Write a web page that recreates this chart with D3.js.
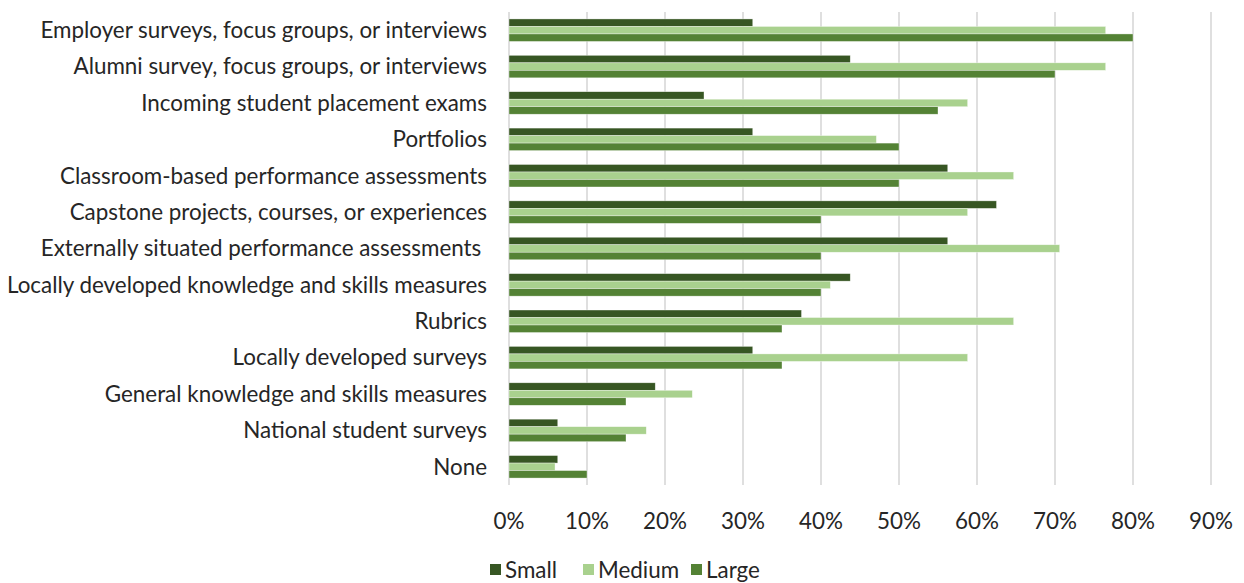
<!DOCTYPE html>
<html>
<head>
<meta charset="utf-8">
<script src="https://cdn.jsdelivr.net/npm/d3@7"></script>
<style>
  body { margin: 0; background: #fff; }
  text { font-family: Lato, "Open Sans", sans-serif; fill: #262626; }
</style>
</head>
<body>
<div id="chart"></div>
<script>
var w = 1244, h = 583;
var marginLeft = 509, marginRight = 33, marginTop = 12, plotBottom = 485;
var fontSize = "22.4px";

// assessment methods, top to bottom
var categories = [
  "Employer surveys, focus groups, or interviews",
  "Alumni survey, focus groups, or interviews",
  "Incoming student placement exams",
  "Portfolios",
  "Classroom-based performance assessments",
  "Capstone projects, courses, or experiences",
  "Externally situated performance assessments ",
  "Locally developed knowledge and skills measures",
  "Rubrics",
  "Locally developed surveys",
  "General knowledge and skills measures",
  "National student surveys",
  "None"
];
var seriesNames = ["Small", "Medium", "Large"];
var small  = [0.3125, 0.4375, 0.25, 0.3125, 0.5625, 0.625, 0.5625, 0.4375, 0.375, 0.3125, 0.1875, 0.0625, 0.0625];
var medium = [0.765, 0.765, 0.588, 0.471, 0.647, 0.588, 0.706, 0.412, 0.647, 0.588, 0.235, 0.176, 0.059];
var large  = [0.80, 0.70, 0.55, 0.50, 0.50, 0.40, 0.40, 0.40, 0.35, 0.35, 0.15, 0.15, 0.10];
var ticks = [0, 0.1, 0.2, 0.3, 0.4, 0.5, 0.6, 0.7, 0.8, 0.9];
var colors = ["#375623", "#a9d18e", "#548235"];

var series = [small, medium, large];

var svg = d3.select("#chart").append("svg")
  .attr("width", w)
  .attr("height", h);

var x = d3.scaleLinear().domain([0, 0.9]).range([marginLeft, w - marginRight]);
var y = d3.scaleBand().domain(categories).range([marginTop, plotBottom]);
var groupH = 22.5;
var yInner = d3.scaleBand().domain(seriesNames).range([0, groupH]);

// gridlines
svg.append("g")
  .selectAll("line")
  .data(ticks)
  .enter().append("line")
  .attr("x1", function(d) { return x(d); })
  .attr("x2", function(d) { return x(d); })
  .attr("y1", marginTop)
  .attr("y2", plotBottom)
  .attr("stroke", "#d4d4d4")
  .attr("stroke-width", 1.5);

// bars
var rows = svg.append("g")
  .selectAll("g")
  .data(categories)
  .enter().append("g")
  .attr("transform", function(d) {
    return "translate(0," + (y(d) + (y.bandwidth() - groupH) / 2) + ")";
  });

rows.selectAll("rect")
  .data(function(d, i) {
    return seriesNames.map(function(s, j) { return {s: s, v: series[j][i], c: colors[j]}; });
  })
  .enter().append("rect")
  .attr("x", x(0))
  .attr("y", function(d) { return yInner(d.s); })
  .attr("width", function(d) { return x(d.v) - x(0); })
  .attr("height", yInner.bandwidth())
  .attr("fill", function(d) { return d.c; })
  .attr("stroke", "#ffffff")
  .attr("stroke-opacity", 0.6)
  .attr("stroke-width", 0.6);

// category labels
svg.append("g")
  .selectAll("text")
  .data(categories)
  .enter().append("text")
  .attr("x", marginLeft - 22)
  .attr("y", function(d) { return y(d) + y.bandwidth() / 2; })
  .attr("dy", "0.35em")
  .attr("text-anchor", "end")
  .style("font-size", fontSize)
  .style("white-space", "pre")
  .text(function(d) { return d; });

// x axis labels
var fmt = d3.format(".0%");
svg.append("g")
  .selectAll("text")
  .data(ticks)
  .enter().append("text")
  .attr("x", function(d) { return x(d); })
  .attr("y", 521)
  .attr("dy", "0.35em")
  .attr("text-anchor", "middle")
  .style("font-size", fontSize)
  .text(function(d) { return fmt(d); });

// legend
var legendX = [490, 583, 691];
var legend = svg.append("g")
  .selectAll("g")
  .data(seriesNames)
  .enter().append("g")
  .attr("transform", function(d, i) { return "translate(" + legendX[i] + ",570)"; });

legend.append("rect")
  .attr("x", 0)
  .attr("y", -6)
  .attr("width", 11)
  .attr("height", 11)
  .attr("fill", function(d, i) { return colors[i]; });

legend.append("text")
  .attr("x", 15)
  .attr("y", 0)
  .attr("dy", "0.35em")
  .style("font-size", fontSize)
  .text(function(d) { return d; });
</script>
</body>
</html>
